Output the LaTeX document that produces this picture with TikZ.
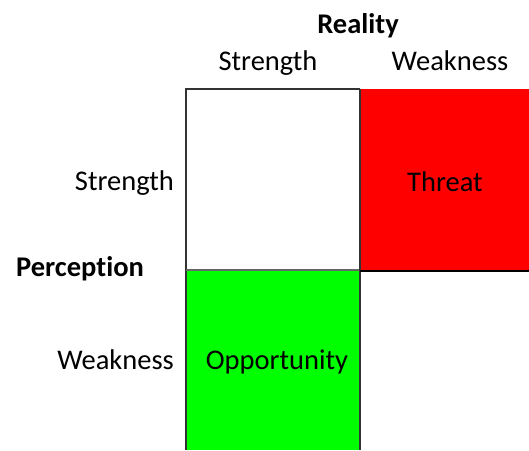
\documentclass[tikz,border=0pt]{standalone}
\usepackage{fontspec}
\setmainfont{Carlito}[Ligatures=NoCommon]
\begin{document}
\begin{tikzpicture}[x=1pt,y=-1pt,
  lbl/.style={inner sep=0pt,font=\fontsize{28.5}{32}\selectfont},
  head/.style={lbl,font=\fontsize{28.5}{32}\selectfont\bfseries},
  cell/.style={draw=black!80,line width=1.5pt}]
\useasboundingbox (0,0) rectangle (529,450);
% cells
\fill[white] (186,89) rectangle (360,270);
\fill[red] (360,89) rectangle (529,271);
\fill[green] (186,270) rectangle (360,450);
\draw[cell] (186,450) -- (186,89) -- (360,89);
\draw[draw=black!60,line width=1.2pt] (186,270) -- (360,270);
\draw[cell] (360,89) -- (360,450);
\draw[draw=black,line width=1.5pt] (360,271) -- (529,271);
% cell texts
\node[lbl,anchor=base] (threat) at (445,191) {Threat};
\node[lbl,anchor=base] (opp) at (277,369) {Opportunity};
% headers
\node[head,anchor=base] (reality) at (358,33) {Reality};
\node[lbl,anchor=base] (cs) at (268,70) {Strength};
\node[lbl,anchor=base] (cw) at (450,70) {Weakness};
\node[lbl,anchor=base east] (rs) at (174,190) {Strength};
\node[head,anchor=base west] (perc) at (16,276) {Perception};
\node[lbl,anchor=base east] (rw) at (174,369) {Weakness};
\end{tikzpicture}
\end{document}
